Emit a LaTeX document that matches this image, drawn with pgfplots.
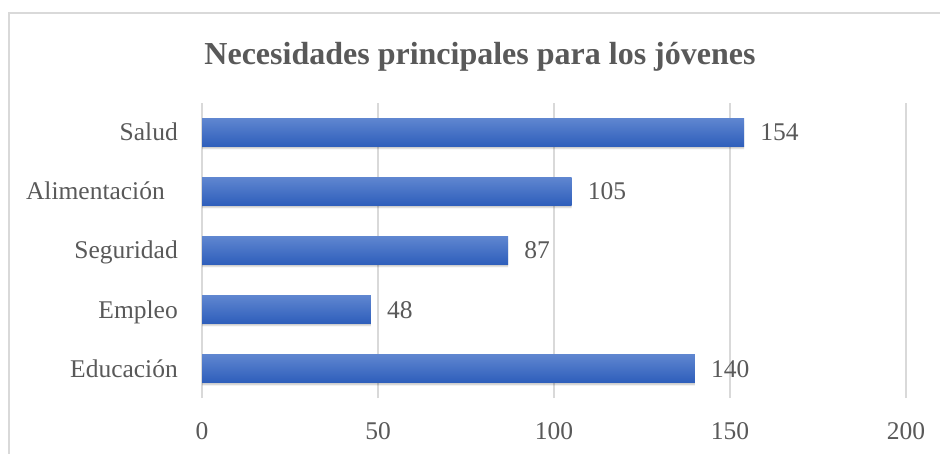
\documentclass[border=0pt]{standalone}
\usepackage{fontspec}
\setmainfont{Liberation Serif}
\usepackage{pgfplots}
\pgfplotsset{compat=1.18}

\definecolor{txt}{HTML}{595959}
\definecolor{gridc}{HTML}{D9D9D9}
\definecolor{bartop}{HTML}{5F86D0}
\definecolor{barbot}{HTML}{2E5EBB}

\pgfplotsset{
    mainbar/.style={draw=none, top color=bartop, bottom color=barbot, bar shift=0pt,
        nodes near coords,
        every node near coord/.append style={anchor=base west, xshift=16bp, yshift=-8.5bp,
            inner sep=0pt, text=txt, font=\fontsize{25.5bp}{30bp}\selectfont}},
}

\begin{document}
\begin{tikzpicture}
\useasboundingbox (0,0) rectangle (940bp,454bp);
\clip (0,0) rectangle (940bp,454bp);
\fill[white] (0,0) rectangle (940bp,454bp);
\draw[gridc, line width=1.2bp] (9bp,-20bp) rectangle (960bp,441bp);
\node[anchor=base, text=txt, font=\bfseries\fontsize{32bp}{38bp}\selectfont]
  at (480bp,389bp) {Necesidades principales para los jóvenes};

\begin{axis}[
    at={(202bp,56bp)}, anchor=south west,
    width=704bp, height=295bp, scale only axis,
    xbar, bar width=28bp,
    xmin=0, xmax=200, ymin=-0.5, ymax=4.5,
    xtick={0,50,...,200},
    ytick={0,...,4},
    yticklabels={Educación,Empleo,Seguridad,Alimentación\kern13bp,Salud},
    axis line style={draw=none},
    major tick length=0pt,
    tick style={draw=none},
    xmajorgrids,
    major grid style={draw=gridc, line width=1.3bp},
    /pgf/number format/assume math mode=true,
    tick label style={text=txt, font=\fontsize{25.5bp}{30bp}\selectfont},
    xticklabel style={anchor=base, yshift=-41bp, inner sep=0pt},
    yticklabel style={anchor=base east, xshift=-24bp, yshift=-8.5bp, inner sep=0pt},
]
% soft shadow under the bars
\addplot[draw=none, fill=black, fill opacity=0.08, bar shift=-4.5bp, bar width=25bp]
  coordinates {(140,0) (48,1) (87,2) (105,3) (154,4)};
\addplot[draw=none, fill=black, fill opacity=0.12, bar shift=-2.5bp, bar width=27bp]
  coordinates {(140,0) (48,1) (87,2) (105,3) (154,4)};
% bars, one plot each so every bar gets its own gradient
\addplot[mainbar] coordinates {(140,0)};
\addplot[mainbar] coordinates {(48,1)};
\addplot[mainbar] coordinates {(87,2)};
\addplot[mainbar] coordinates {(105,3)};
\addplot[mainbar] coordinates {(154,4)};
\end{axis}
\end{tikzpicture}
\end{document}
